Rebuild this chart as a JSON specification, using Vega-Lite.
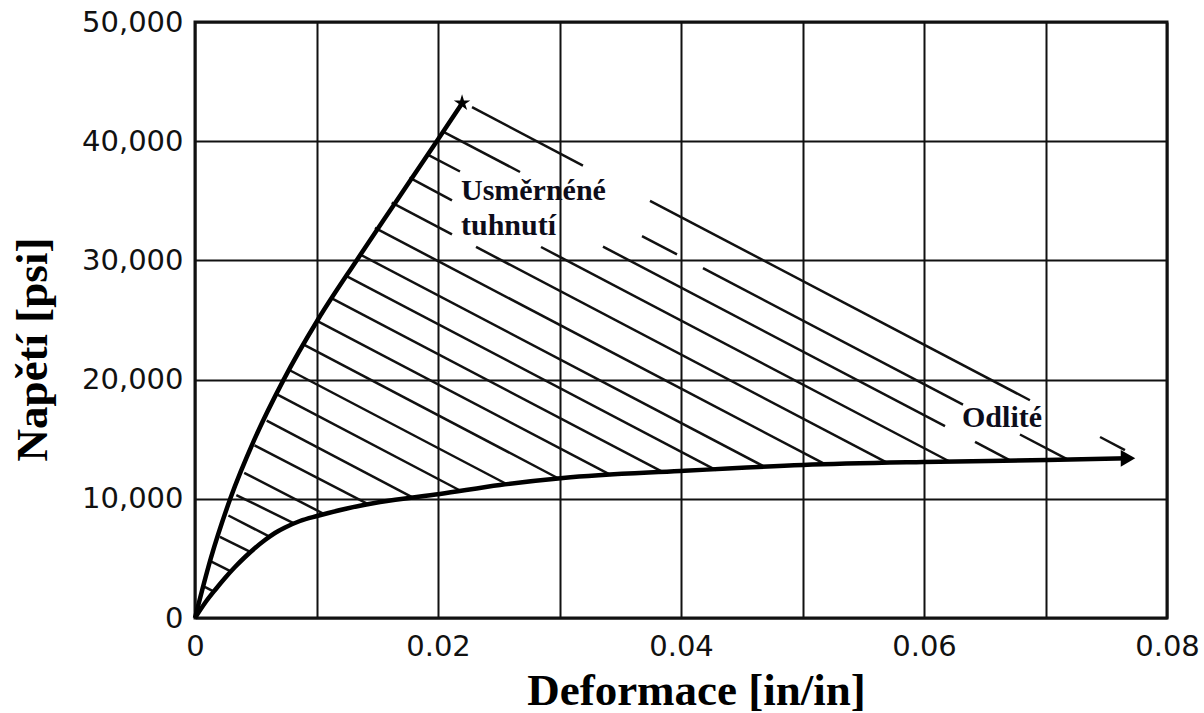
{
  "$schema": "https://vega.github.io/schema/vega-lite/v6.json",
  "width": 972,
  "height": 596,
  "autosize": "none",
  "padding": {"left": 195, "top": 22, "right": 37, "bottom": 95},
  "background": "white",
  "config": {"view": {"stroke": "#111", "strokeWidth": 3}},
  "datasets": {
    "curves": [
      {"curve": "directional", "x": 0, "y": 0},
      {"curve": "directional", "x": 0.0013, "y": 5000},
      {"curve": "directional", "x": 0.0029, "y": 10000},
      {"curve": "directional", "x": 0.0049, "y": 15000},
      {"curve": "directional", "x": 0.0073, "y": 20000},
      {"curve": "directional", "x": 0.0101, "y": 25000},
      {"curve": "directional", "x": 0.0133, "y": 30000},
      {"curve": "directional", "x": 0.0166, "y": 35000},
      {"curve": "directional", "x": 0.0199, "y": 40000},
      {"curve": "directional", "x": 0.022, "y": 43200},
      {"curve": "cast", "x": 0, "y": 0},
      {"curve": "cast", "x": 0.00082, "y": 1258},
      {"curve": "cast", "x": 0.00165, "y": 2349},
      {"curve": "cast", "x": 0.00247, "y": 3356},
      {"curve": "cast", "x": 0.00329, "y": 4278},
      {"curve": "cast", "x": 0.00412, "y": 5117},
      {"curve": "cast", "x": 0.00494, "y": 5872},
      {"curve": "cast", "x": 0.00576, "y": 6543},
      {"curve": "cast", "x": 0.00658, "y": 7131},
      {"curve": "cast", "x": 0.00741, "y": 7592},
      {"curve": "cast", "x": 0.00864, "y": 8137},
      {"curve": "cast", "x": 0.01004, "y": 8557},
      {"curve": "cast", "x": 0.01251, "y": 9186},
      {"curve": "cast", "x": 0.01523, "y": 9731},
      {"curve": "cast", "x": 0.02016, "y": 10402},
      {"curve": "cast", "x": 0.0251, "y": 11157},
      {"curve": "cast", "x": 0.03029, "y": 11745},
      {"curve": "cast", "x": 0.03992, "y": 12332},
      {"curve": "cast", "x": 0.05004, "y": 12835},
      {"curve": "cast", "x": 0.05992, "y": 13087},
      {"curve": "cast", "x": 0.07012, "y": 13255},
      {"curve": "cast", "x": 0.0768, "y": 13400}
    ],
    "hatch": [
      {"seg": "0a", "x": 0.0228, "y": 42851}, {"seg": "0a", "x": 0.03193, "y": 37952},
      {"seg": "0b", "x": 0.03745, "y": 34999}, {"seg": "0b", "x": 0.06872, "y": 18267},
      {"seg": "0c", "x": 0.07449, "y": 15184}, {"seg": "0c", "x": 0.07654, "y": 14085},
      {"seg": "1a", "x": 0.02045, "y": 40787}, {"seg": "1a", "x": 0.02675, "y": 37415},
      {"seg": "1b", "x": 0.03679, "y": 32042}, {"seg": "1b", "x": 0.03967, "y": 30502},
      {"seg": "1c", "x": 0.04181, "y": 29353}, {"seg": "1c", "x": 0.06321, "y": 17902},
      {"seg": "1d", "x": 0.0679, "y": 15394}, {"seg": "1d", "x": 0.07185, "y": 13280},
      {"seg": "2a", "x": 0.01915, "y": 38875}, {"seg": "2a", "x": 0.02181, "y": 37457},
      {"seg": "2b", "x": 0.03358, "y": 31157}, {"seg": "2b", "x": 0.06173, "y": 16098},
      {"seg": "2c", "x": 0.0642, "y": 14773}, {"seg": "2c", "x": 0.06716, "y": 13188},
      {"seg": "3a", "x": 0.01765, "y": 36937}, {"seg": "3a", "x": 0.02115, "y": 35041},
      {"seg": "3b", "x": 0.02848, "y": 31123}, {"seg": "3b", "x": 0.06214, "y": 13108},
      {"seg": "4a", "x": 0.01619, "y": 34848}, {"seg": "4a", "x": 0.02115, "y": 32189},
      {"seg": "4b", "x": 0.02313, "y": 31132}, {"seg": "4b", "x": 0.05695, "y": 13028},
      {"seg": "5", "x": 0.01481, "y": 32725}, {"seg": "5", "x": 0.05193, "y": 12865},
      {"seg": "6", "x": 0.01354, "y": 30519}, {"seg": "6", "x": 0.04691, "y": 12667},
      {"seg": "7", "x": 0.01243, "y": 28707}, {"seg": "7", "x": 0.04288, "y": 12407},
      {"seg": "8", "x": 0.0113, "y": 26794}, {"seg": "8", "x": 0.03852, "y": 12231},
      {"seg": "9", "x": 0.01016, "y": 24865}, {"seg": "9", "x": 0.03424, "y": 11980},
      {"seg": "10", "x": 0.00899, "y": 22910}, {"seg": "10", "x": 0.02988, "y": 11724},
      {"seg": "11", "x": 0.00776, "y": 20805}, {"seg": "11", "x": 0.0256, "y": 11262},
      {"seg": "12", "x": 0.00675, "y": 18758}, {"seg": "12", "x": 0.02189, "y": 10654},
      {"seg": "13", "x": 0.0059, "y": 16551}, {"seg": "13", "x": 0.0179, "y": 10126},
      {"seg": "14", "x": 0.0049, "y": 14488}, {"seg": "14", "x": 0.01424, "y": 9547},
      {"seg": "15", "x": 0.00405, "y": 12181}, {"seg": "15", "x": 0.0107, "y": 8683},
      {"seg": "16", "x": 0.0034, "y": 10318}, {"seg": "16", "x": 0.00823, "y": 7900},
      {"seg": "17", "x": 0.00275, "y": 8599}, {"seg": "17", "x": 0.00617, "y": 6800},
      {"seg": "18", "x": 0.00205, "y": 6812}, {"seg": "18", "x": 0.00459, "y": 5520},
      {"seg": "19", "x": 0.00135, "y": 4723}, {"seg": "19", "x": 0.00299, "y": 3884},
      {"seg": "20", "x": 0.0008, "y": 2609}, {"seg": "20", "x": 0.00156, "y": 2206}
    ],
    "star": [{"x": 0.02198, "y": 43203}],
    "arrow": [{"x": 0.07679, "y": 13400}],
    "labels": [
      {"label": "Usměrnéné", "x": 0.02189, "y": 35066},
      {"label": "tuhnutí", "x": 0.02189, "y": 32130},
      {"label": "Odlité", "x": 0.06313, "y": 16023}
    ]
  },
  "encoding": {
    "x": {
      "field": "x",
      "type": "quantitative",
      "scale": {"domain": [0, 0.08], "nice": false, "zero": false},
      "axis": {
        "values": [0, 0.01, 0.02, 0.03, 0.04, 0.05, 0.06, 0.07, 0.08],
        "labelExpr": "datum.value == 0 ? '0' : (round(datum.value * 100) % 2 == 0 ? format(datum.value, '.2f') : '')",
        "title": "Deformace [in/in]",
        "grid": true,
        "gridColor": "#111",
        "gridWidth": 2,
        "gridOpacity": 1,
        "domain": false,
        "ticks": false,
        "labelFont": "DejaVu Sans",
        "labelFontSize": 29,
        "labelColor": "#111",
        "labelPadding": 14,
        "labelFlush": false,
        "labelOverlap": false,
        "titleFont": "Liberation Serif",
        "titleFontSize": 45,
        "titleFontWeight": "bold",
        "titleColor": "#000",
        "titleBaseline": "alphabetic",
        "titleY": 86,
        "titleX": 501
      }
    },
    "y": {
      "field": "y",
      "type": "quantitative",
      "scale": {"domain": [0, 50000], "nice": false},
      "axis": {
        "values": [0, 10000, 20000, 30000, 40000, 50000],
        "format": ",d",
        "title": "Napětí [psi]",
        "grid": true,
        "gridColor": "#111",
        "gridWidth": 2,
        "gridOpacity": 1,
        "domain": false,
        "ticks": false,
        "labelFont": "DejaVu Sans",
        "labelFontSize": 29,
        "labelColor": "#111",
        "labelPadding": 12,
        "labelFlush": false,
        "labelOverlap": false,
        "titleFont": "Liberation Serif",
        "titleFontSize": 45,
        "titleFontWeight": "bold",
        "titleColor": "#000",
        "titleAngle": 270,
        "titleBaseline": "alphabetic",
        "titleAlign": "center",
        "titleX": -149,
        "titleY": 327
      }
    }
  },
  "layer": [
    {
      "data": {"name": "hatch"},
      "mark": {"type": "line", "color": "#111", "strokeWidth": 2.5, "clip": true},
      "encoding": {"detail": {"field": "seg", "type": "nominal"}}
    },
    {
      "data": {"name": "curves"},
      "mark": {"type": "line", "color": "#000", "strokeWidth": 4.5, "interpolate": "monotone"},
      "encoding": {"detail": {"field": "curve", "type": "nominal"}}
    },
    {
      "data": {"name": "star"},
      "mark": {"type": "point", "shape": "M0,-1L0.22,-0.3L0.95,-0.3L0.36,0.12L0.59,0.81L0,0.38L-0.59,0.81L-0.36,0.12L-0.95,-0.3L-0.22,-0.3Z", "filled": true, "color": "#000", "size": 300, "opacity": 1}
    },
    {
      "data": {"name": "arrow"},
      "mark": {"type": "point", "shape": "triangle-right", "filled": true, "color": "#000", "size": 280, "opacity": 1}
    },
    {
      "data": {"name": "labels"},
      "mark": {"type": "text", "align": "left", "baseline": "alphabetic", "font": "Liberation Serif", "fontWeight": "bold", "fontSize": 30, "color": "#0d0d1a"},
      "encoding": {"text": {"field": "label", "type": "nominal"}}
    }
  ]
}
